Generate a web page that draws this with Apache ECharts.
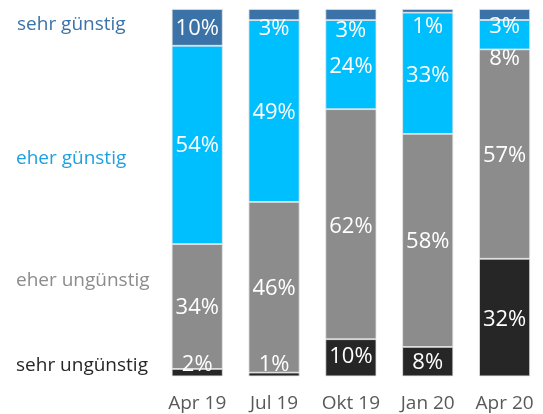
<!DOCTYPE html>
<html>
<head>
<meta charset="utf-8">
<script src="https://cdn.jsdelivr.net/npm/echarts@6/dist/echarts.min.js"></script>
<style>
html,body{margin:0;padding:0;background:#fff;}
#chart{width:543px;height:414px;}
</style>
</head>
<body>
<div id="chart"></div>
<script>
// Data
var categories = ['Apr 19', 'Jul 19', 'Okt 19', 'Jan 20', 'Apr 20'];
var seriesNames = ['sehr ungünstig', 'eher ungünstig', 'eher günstig', 'sehr günstig'];
var sehrUnguenstig = [2, 1, 10, 8, 32];
var eherUnguenstig = [34, 46, 62, 58, 57];
var eherGuenstig = [54, 49, 24, 33, 8];
var sehrGuenstig = [10, 3, 3, 1, 3];

// Styling (kept separate from data)
var colors = ['#262626', '#8c8c8c', '#00bfff', '#3b72a7'];
var nameColors = ['#262626', '#8c8c8c', '#1ea0e2', '#3b72a7'];
// vertical label shift in px per series (bottom->top), per category
var labelShift = [
  [-8, -10, -1, 1, 2],
  [1, 1, 3, 1, 2],
  [1, 2, 2, 2, 24],
  [1, 14, 16, 16, 12]
];

var raw = [sehrUnguenstig, eherUnguenstig, eherGuenstig, sehrGuenstig];
var totals = categories.map(function (c, i) {
  return raw.reduce(function (s, arr) { return s + arr[i]; }, 0);
});

var FONT = '"Open Sans", "Liberation Sans", sans-serif';

var series = raw.map(function (arr, si) {
  return {
    name: seriesNames[si],
    type: 'bar',
    stack: 'total',
    barWidth: 51,
    itemStyle: { color: colors[si], borderColor: '#e4e4e4', borderWidth: 0.8 },
    label: {
      show: true,
      position: 'inside',
      color: '#ffffff',
      fontFamily: FONT,
      fontSize: 22
    },
    data: arr.map(function (v, i) {
      return {
        value: v / totals[i] * 100,
        label: { formatter: v + '%', offset: [0, labelShift[si][i]] }
      };
    })
  };
});

var chart = echarts.init(document.getElementById('chart'), null, { renderer: 'canvas' });
chart.setOption({
  animation: false,
  backgroundColor: '#ffffff',
  grid: { left: 158.8, width: 392, top: 9, bottom: 37.7, containLabel: false },
  xAxis: {
    type: 'category',
    data: categories,
    axisLine: { show: false },
    axisTick: { show: false },
    axisLabel: { color: '#595959', fontFamily: FONT, fontSize: 19, margin: 18 }
  },
  yAxis: { type: 'value', min: 0, max: 100, show: false },
  series: series,
  graphic: [
    { type: 'text', left: 17, top: 15, style: { text: seriesNames[3], fill: nameColors[3], font: '19px ' + FONT } },
    { type: 'text', left: 16, top: 149, style: { text: seriesNames[2], fill: nameColors[2], font: '19px ' + FONT } },
    { type: 'text', left: 16, top: 271, style: { text: seriesNames[1], fill: nameColors[1], font: '19px ' + FONT } },
    { type: 'text', left: 16, top: 356, style: { text: seriesNames[0], fill: nameColors[0], font: '19px ' + FONT } }
  ]
});
</script>
</body>
</html>
